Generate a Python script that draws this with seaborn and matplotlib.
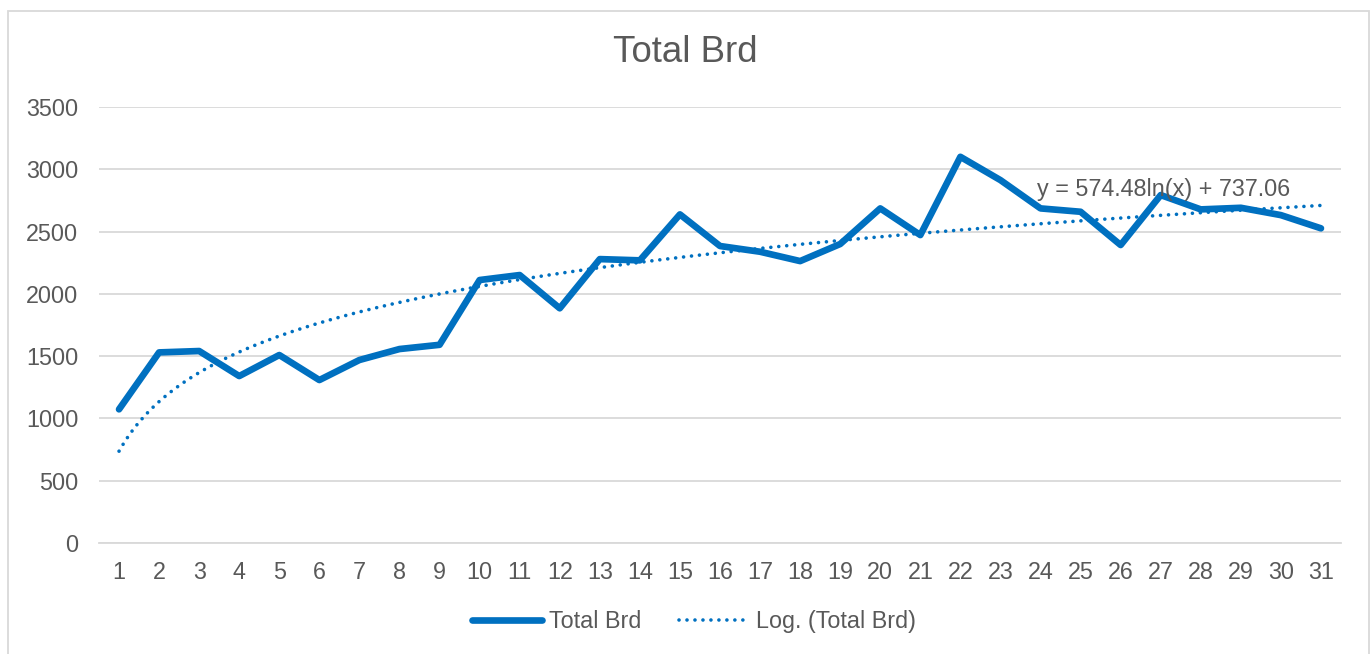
import numpy as np
import pandas as pd
import matplotlib
matplotlib.use("Agg")
import matplotlib.pyplot as plt
import seaborn as sns
from matplotlib.patches import Rectangle

# datos
dias = list(range(1, 32))
total_brd = [1073, 1530, 1541, 1340, 1509, 1308, 1469, 1557, 1591, 2111,
             2151, 1884, 2279, 2269, 2638, 2384, 2338, 2263, 2400, 2686,
             2472, 3100, 2913, 2686, 2659, 2392, 2793, 2678, 2691, 2632, 2526]
coef_a = 574.48
coef_b = 737.06
yticks = [0, 500, 1000, 1500, 2000, 2500, 3000, 3500]

azul = "#0070C0"
gris_txt = "#595959"
gris_lin = "#D9D9D9"

sns.set_style("white")
plt.rcParams["font.family"] = ["Liberation Sans", "DejaVu Sans"]

df = pd.DataFrame({"dia": dias, "valor": total_brd})
x_fino = np.linspace(1, 31, 400)
df_tend = pd.DataFrame({"dia": x_fino, "valor": coef_a * np.log(x_fino) + coef_b})

fig = plt.figure(figsize=(13.71, 6.54), dpi=100)
ax = fig.add_axes([99 / 1371, 111 / 654, 1242 / 1371, 436 / 654])

sns.lineplot(data=df, x="dia", y="valor", ax=ax, color=azul, lw=4.8,
             label="Total Brd", solid_capstyle="round", solid_joinstyle="round")
sns.lineplot(data=df_tend, x="dia", y="valor", ax=ax, color=azul, lw=2.6,
             linestyle=(0, (0.01, 2.2)), dash_capstyle="round",
             label="Log. (Total Brd)")

ax.set_xlim(0.5, 31.5)
ax.set_ylim(0, 3500)
ax.set_xticks(dias)
ax.set_xticklabels([str(d) for d in dias])
ax.set_xticks(np.arange(0.5, 32, 1), minor=True)
ax.set_yticks(yticks)
ax.set_yticklabels([str(v) for v in yticks])
ax.set_xlabel("")
ax.set_ylabel("")

ax.grid(axis="y", color=gris_lin, lw=1.3)
ax.set_axisbelow(True)
for s in ["top", "right", "left"]:
    ax.spines[s].set_visible(False)
ax.spines["bottom"].set_color(gris_lin)
ax.spines["bottom"].set_linewidth(1.3)

ax.tick_params(axis="x", which="major", length=0, pad=13, labelsize=16.8, labelcolor=gris_txt)
ax.tick_params(axis="x", which="minor", length=5, width=1.3, color=gris_lin, direction="out")
ax.tick_params(axis="y", length=0, pad=15, labelsize=16.8, labelcolor=gris_txt)

ax.text(0.755, 0.81, "y = 574.48ln(x) + 737.06", transform=ax.transAxes,
        fontsize=16.8, color=gris_txt, va="center", ha="left")

fig.text(0.5, 1 - 52 / 654, "Total Brd", fontsize=26.4, color=gris_txt,
         ha="center", va="center")

leg = ax.legend(loc="center", bbox_to_anchor=(0.479, -0.181), ncol=2, frameon=False,
                fontsize=16.8, handlelength=3.0, handletextpad=0.3, columnspacing=1.6)
for t in leg.get_texts():
    t.set_color(gris_txt)

fig.patches.append(Rectangle((8 / 1371, -0.02), (1369 - 8) / 1371, 1.02 - 11 / 654,
                             transform=fig.transFigure, fill=False,
                             edgecolor=gris_lin, lw=1.3))

plt.savefig("out.png", dpi=100)
plt.close()
